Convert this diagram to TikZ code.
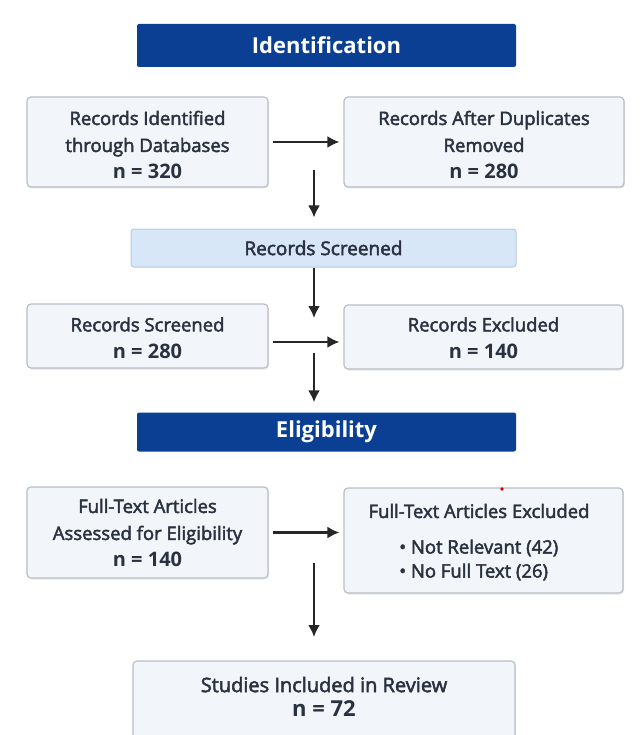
\documentclass[tikz,border=0pt]{standalone}
\usepackage{fontspec}
\setmainfont{Open Sans}[UprightFeatures={FakeBold=2.5}]
\usetikzlibrary{arrows.meta,shadows}
\definecolor{dblue}{HTML}{0B3F94}
\definecolor{lblue}{HTML}{D8E7F7}
\definecolor{lbord}{HTML}{B3CBE6}
\definecolor{boxfill}{HTML}{F2F5F9}
\definecolor{boxbord}{HTML}{B9BFC7}
\definecolor{txt}{HTML}{2A3140}
\definecolor{arrowc}{HTML}{262626}
\newcommand\nval[1]{{\fontsize{20}{27}\selectfont\bfseries #1}}
\begin{document}
\begin{tikzpicture}[x=1pt,y=-1pt,
  box/.style={draw=boxbord, line width=1.2pt, fill=boxfill, rounded corners=4pt, inner sep=0pt,
    drop shadow={shadow xshift=1pt, shadow yshift=-1.5pt, opacity=0.18}},
  phase/.style={fill=dblue, rounded corners=2pt, inner sep=0pt, text=white,
    font=\fontsize{22}{26}\selectfont\bfseries},
  sbar/.style={draw=lbord, line width=1pt, fill=lblue, rounded corners=3pt, inner sep=0pt,
    text=txt, font=\fontsize{19}{23}\selectfont},
  lbl/.style={text=txt, align=center, font=\fontsize{18.5}{27}\selectfont, inner sep=0pt},
  arr/.style={draw=arrowc, line width=2.2pt, -{Latex[length=12pt,width=12pt]}},
]
\useasboundingbox (0,0) rectangle (643,735);
\fill[white] (0,0) rectangle (643,735);

% phase bars
\node[phase, minimum width=379pt, minimum height=43pt] (ident) at (326.5,45.5) {Identification};
\node[sbar, minimum width=385pt, minimum height=38pt] (rs) at (323.5,248) {Records Screened};
\node[phase, minimum width=379pt, minimum height=39pt] (elig) at (326.5,432) {Eligibility};

% boxes
\node[box, minimum width=241pt, minimum height=90pt] (A) at (147.5,142) {};
\node[lbl] (At) at (147.5,145) {Records Identified\\through Databases\\\nval{n = 320}};

\node[box, minimum width=280pt, minimum height=90pt] (B) at (484,142) {};
\node[lbl] (Bt) at (484,145) {Records After Duplicates\\Removed\\\nval{n = 280}};

\node[box, minimum width=241pt, minimum height=64pt] (C) at (147.5,336) {};
\node[lbl] (Ct) at (147.5,338) {Records Screened\\\nval{n = 280}};

\node[box, minimum width=279pt, minimum height=64pt] (D) at (483.5,337) {};
\node[lbl] (Dt) at (483.5,338) {Records Excluded\\\nval{n = 140}};

\node[box, minimum width=241pt, minimum height=91pt] (E) at (147.5,532.5) {};
\node[lbl] (Et) at (147.5,533) {Full-Text Articles\\Assessed for Eligibility\\\nval{n = 140}};

\node[box, minimum width=279pt, minimum height=105pt] (F) at (483.5,540.5) {};
\node[lbl] (Ft) at (479,511) {Full-Text Articles Excluded};
\node[lbl, align=left, anchor=west, font=\fontsize{18.5}{24}\selectfont] (Fb) at (399,560)
  {• Not Relevant (42)\\• No Full Text (26)};
\fill[red!85!black] (502,489) circle (1.8pt);

\node[box, minimum width=382pt, minimum height=99pt] (G) at (324,710.5) {};
\node[lbl, font=\fontsize{20}{24}\selectfont] (Gt) at (324,696.5)
  {Studies Included in Review\\{\fontsize{22}{24}\selectfont\bfseries n = 72}};

% connectors
\draw[arr, shorten <=4pt, shorten >=4pt] (A.east) -- (B.west);
\coordinate (d1s) at (314,170);
\draw[arr, shorten >=11pt] (d1s) -- (d1s |- rs.north);
\coordinate (d2e) at (314,318);
\draw[arr] (rs.south -| d2e) -- (d2e);
\draw[arr, shorten <=4pt, shorten >=4pt] ([yshift=-6pt]C.east) -- ([yshift=-6pt]C.east -| D.west);
\coordinate (d3s) at (314,353);
\draw[arr, shorten >=10pt] (d3s) -- (d3s |- elig.north);
\draw[arr, shorten <=4pt, shorten >=4pt] (E.east) -- (E.east -| F.west);
\coordinate (d4s) at (314,563);
\coordinate (d4e) at (314,637);
\draw[arr] (d4s) -- (d4e);
\end{tikzpicture}
\end{document}
